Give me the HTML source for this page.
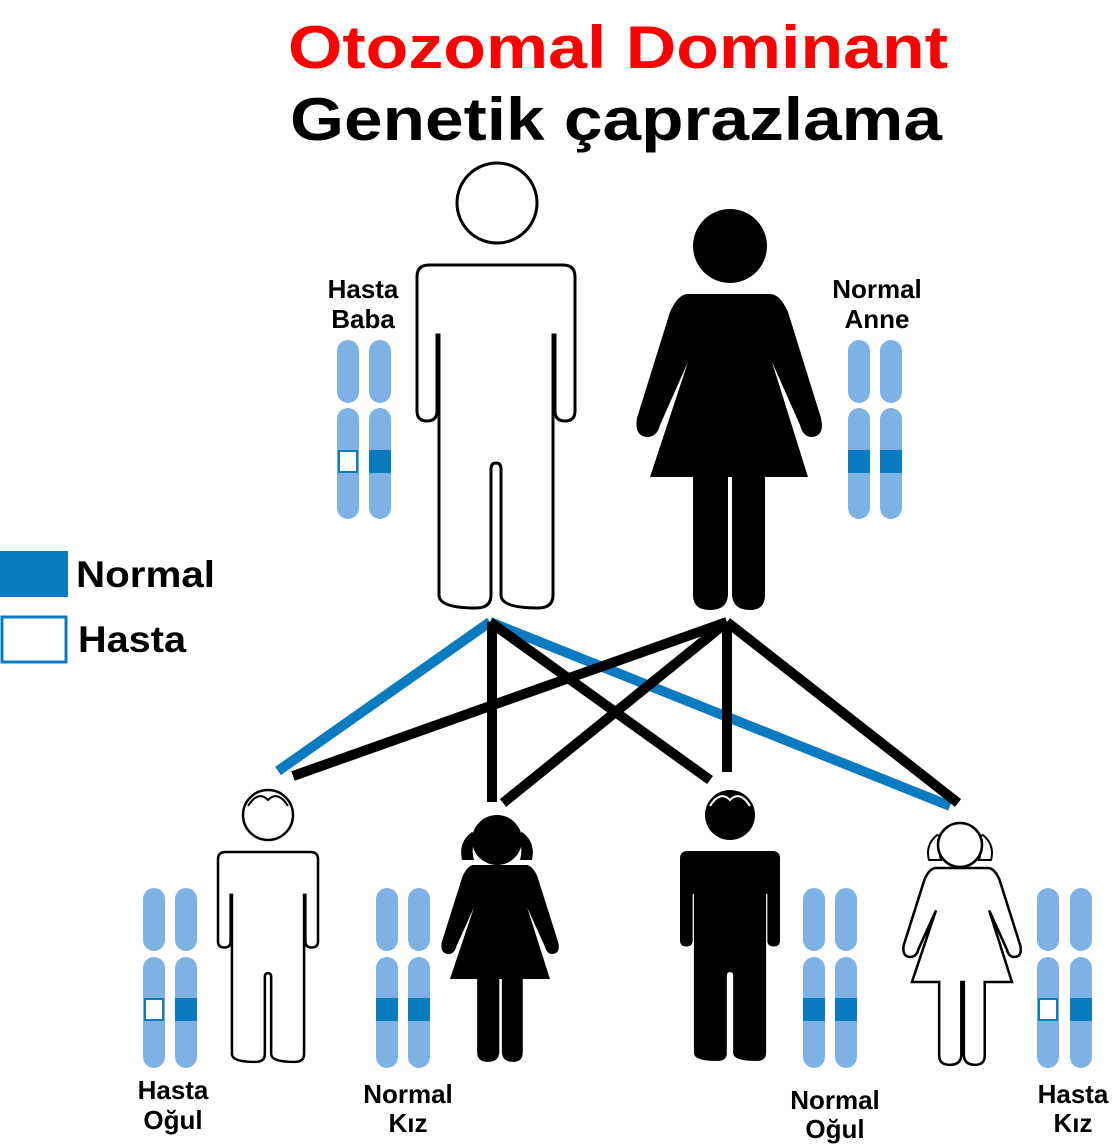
<!DOCTYPE html>
<html><head><meta charset="utf-8"><style>
html,body{margin:0;padding:0;background:#fff;}
svg{display:block;font-family:"Liberation Sans",sans-serif;font-weight:bold;}
</style></head><body>
<svg width="1118" height="1148" viewBox="0 0 1118 1148" xmlns="http://www.w3.org/2000/svg">
<defs>
<path id="man" d="M12,0 H146 Q158,0 158,12 V146 Q158,156 148,156 Q138,156 138,146 V70 H136 V330 Q136,343 121,343 Q84,343 84,330 V204 Q84,198 79,198 Q74,198 74,204 V330 Q74,343 59,343 Q22,343 22,330 V70 H20 V146 Q20,156 10,156 Q0,156 0,146 V12 Q0,0 12,0 Z"/>
<path id="woman" d="M688,294 H770 Q780,294 788,312 L821,418 Q825,436 812,437 Q803,437 800,425 L772,362 L808,477 H765 V595 Q765,610 750,610 Q733,610 732,595 V477 H728 V595 Q727,610 710,610 Q693,610 693,595 V477 H650 L688,362 L660,425 Q657,437 647,437 Q634,436 637,418 L670,312 Q678,294 688,294 Z"/>
</defs>

<text x="288" y="68" font-size="60" fill="#ff0000" textLength="660" lengthAdjust="spacingAndGlyphs">Otozomal Dominant</text>
<text x="290" y="140" font-size="60" fill="#000" textLength="652" lengthAdjust="spacingAndGlyphs">Genetik çaprazlama</text>

<!-- Father -->
<circle cx="497" cy="203" r="40" fill="#fff" stroke="#000" stroke-width="3"/>
<g transform="translate(417,265)"><use href="#man" fill="#fff" stroke="#000" stroke-width="3"/></g>
<!-- Mother -->
<circle cx="730" cy="246" r="37" fill="#000"/>
<use href="#woman" fill="#000"/>

<g font-size="26" text-anchor="middle">
<text x="363" y="298">Hasta</text><text x="363" y="328">Baba</text>
<text x="877" y="298">Normal</text><text x="877" y="328">Anne</text>
<text x="173" y="1099">Hasta</text><text x="173" y="1129">Oğul</text>
<text x="408" y="1103">Normal</text><text x="408" y="1132">Kız</text>
<text x="835" y="1109">Normal</text><text x="835" y="1138">Oğul</text>
<text x="1073" y="1103">Hasta</text><text x="1073" y="1132">Kız</text>
</g>

<!-- Chromosomes -->
<g fill="#7eb2e4">
<rect x="337" y="340" width="22" height="63" rx="11"/><rect x="369" y="340" width="22" height="63" rx="11"/>
<rect x="337" y="408" width="22" height="111" rx="11"/><rect x="369" y="408" width="22" height="111" rx="11"/>
<rect x="848" y="340" width="22" height="63" rx="11"/><rect x="880" y="340" width="22" height="63" rx="11"/>
<rect x="848" y="408" width="22" height="111" rx="11"/><rect x="880" y="408" width="22" height="111" rx="11"/>
<rect x="143" y="888" width="22" height="63" rx="11"/><rect x="175" y="888" width="22" height="63" rx="11"/>
<rect x="143" y="957" width="22" height="111" rx="11"/><rect x="175" y="957" width="22" height="111" rx="11"/>
<rect x="376" y="888" width="22" height="63" rx="11"/><rect x="408" y="888" width="22" height="63" rx="11"/>
<rect x="376" y="957" width="22" height="111" rx="11"/><rect x="408" y="957" width="22" height="111" rx="11"/>
<rect x="803" y="888" width="22" height="63" rx="11"/><rect x="835" y="888" width="22" height="63" rx="11"/>
<rect x="803" y="957" width="22" height="111" rx="11"/><rect x="835" y="957" width="22" height="111" rx="11"/>
<rect x="1037" y="888" width="22" height="63" rx="11"/><rect x="1070" y="888" width="22" height="63" rx="11"/>
<rect x="1037" y="957" width="22" height="111" rx="11"/><rect x="1070" y="957" width="22" height="111" rx="11"/>
</g>
<g fill="#0a7bc0">
<rect x="369" y="450" width="22" height="23"/>
<rect x="848" y="450" width="22" height="23"/><rect x="880" y="450" width="22" height="23"/>
<rect x="175" y="998" width="22" height="23"/>
<rect x="376" y="998" width="22" height="23"/><rect x="408" y="998" width="22" height="23"/>
<rect x="803" y="998" width="22" height="23"/><rect x="835" y="998" width="22" height="23"/>
<rect x="1070" y="998" width="22" height="23"/>
</g>
<g fill="#fff" stroke="#0a7bc0" stroke-width="2">
<rect x="339" y="451" width="18" height="21"/>
<rect x="145" y="999" width="18" height="21"/>
<rect x="1039" y="999" width="18" height="21"/>
</g>

<!-- Legend -->
<rect x="0" y="551" width="68" height="46" fill="#0a7bc0"/>
<text x="76" y="587" font-size="37" textLength="139" lengthAdjust="spacingAndGlyphs">Normal</text>
<rect x="2" y="617" width="64" height="45" fill="#fff" stroke="#0a7bc0" stroke-width="3"/>
<text x="78" y="652" font-size="37" textLength="108" lengthAdjust="spacingAndGlyphs">Hasta</text>

<!-- Lines -->
<g stroke-width="10" stroke-linecap="butt">
<line x1="490" y1="622" x2="278" y2="771" stroke="#0a7bc0"/>
<line x1="490" y1="622" x2="950" y2="806" stroke="#0a7bc0"/>
<line x1="727" y1="622" x2="293" y2="776" stroke="#000"/>
<line x1="492" y1="622" x2="492" y2="802" stroke="#000"/>
<line x1="490" y1="622" x2="710" y2="780" stroke="#000"/>
<line x1="727" y1="622" x2="503" y2="803" stroke="#000"/>
<line x1="727" y1="622" x2="727" y2="772" stroke="#000"/>
<line x1="727" y1="622" x2="958" y2="803" stroke="#000"/>
</g>

<!-- Son1 -->
<circle cx="268" cy="815" r="25" fill="#fff" stroke="#000" stroke-width="2.5"/>
<path d="M248,806 Q258,790 268,800 Q278,790 288,806" fill="none" stroke="#000" stroke-width="2"/>
<g transform="translate(218,852) scale(0.633,0.612)"><use href="#man" fill="#fff" stroke="#000" stroke-width="4"/></g>

<!-- Daughter1 -->
<path d="M472,832 Q458,842 462,860 L474,860 Q470,845 478,836 Z" fill="#000"/>
<path d="M522,832 Q536,842 532,860 L520,860 Q524,845 516,836 Z" fill="#000"/>
<circle cx="497" cy="840" r="25" fill="#000"/>
<g transform="translate(38.5,681.8) scale(0.633,0.623)"><use href="#woman" fill="#000"/></g>

<!-- Son2 -->
<circle cx="730" cy="815" r="25" fill="#000"/>
<path d="M710,806 Q720,790 730,800 Q740,790 750,806" fill="none" stroke="#fff" stroke-width="2"/>
<g transform="translate(680,851) scale(0.633,0.612)"><use href="#man" fill="#000"/></g>

<!-- Daughter2 -->
<path d="M937,835 Q925,845 929,860 L941,860 Q937,847 944,838 Z" fill="#fff" stroke="#000" stroke-width="2"/>
<path d="M983,835 Q995,845 991,860 L979,860 Q983,847 976,838 Z" fill="#fff" stroke="#000" stroke-width="2"/>
<circle cx="960" cy="845" r="22" fill="#fff" stroke="#000" stroke-width="2.5"/>
<g transform="translate(500.5,684.8) scale(0.633,0.623)"><use href="#woman" fill="#fff" stroke="#000" stroke-width="4"/></g>
</svg>
</body></html>
